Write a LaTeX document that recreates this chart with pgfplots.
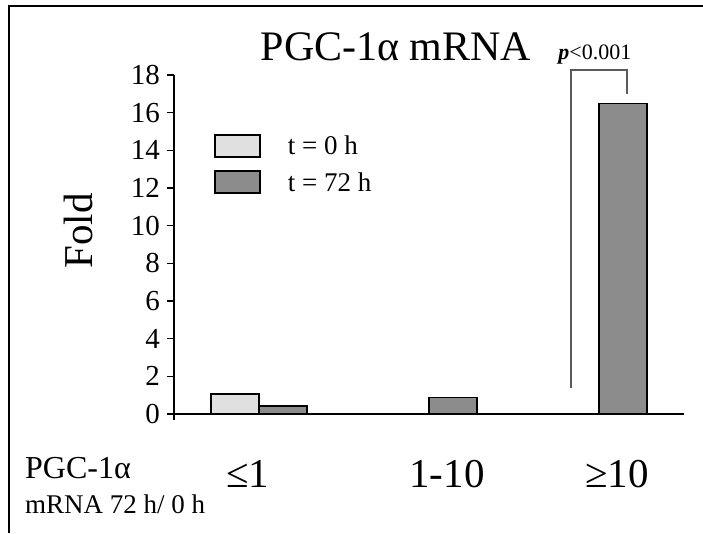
\documentclass[border=0pt]{standalone}
\usepackage{fontspec}
\setmainfont{Liberation Serif}
\usepackage{pgfplots}
\pgfplotsset{compat=1.18}
\definecolor{lightbar}{HTML}{E0E0E0}
\definecolor{darkbar}{HTML}{8C8C8C}
\definecolor{brack}{HTML}{5A5A5A}
\begin{document}
\begin{tikzpicture}
\path[use as bounding box] (0pt,0pt) rectangle (703pt,-533pt);
\draw[line width=2pt] (9pt,-533pt) -- (9pt,-6pt) -- (703pt,-6pt);
\begin{axis}[
  at={(174pt,-419.65pt)}, anchor=south west,
  scale only axis, width=510pt, height=344.6pt,
  xmin=-0.5, xmax=2.5, ymin=-0.3, ymax=18,
  axis x line=middle, axis y line=left,
  axis line style={line width=1.6pt, -},
  ybar=0pt, bar width=48pt,
  ytick={0,2,...,18},
  xtick={-0.065,1.106,2.106}, xticklabels={≤1,1-10,≥10},
  x tick style={draw=none},
  y tick style={line width=1.4pt, black},
  tick align=outside, major tick length=7pt,
  /pgf/number format/assume math mode=true,
  yticklabel style={font=\fontsize{29}{29}\selectfont, inner sep=0pt, xshift=-7pt},
  xticklabel style={font=\fontsize{41}{41}\selectfont, anchor=base, yshift=-66pt, inner sep=0pt},
  clip=false,
  legend cell align=left,
  legend image code/.code={\draw[#1, line width=2pt] (0pt,-11pt) rectangle (45pt,11pt);},
  legend style={draw=none, fill=none, at={(0.0784,0.829)}, anchor=north west,
    inner sep=0pt, outer sep=0pt, nodes={inner sep=0pt}, row sep=12.5pt,
    font=\fontsize{27}{27}\selectfont,
    /tikz/every odd column/.append style={column sep=27pt}},
]
\addplot[fill=lightbar, draw=black, line width=1.5pt] coordinates {(0,1.05)};
\addlegendentry{t = 0 h}
\addplot[fill=darkbar, draw=black, line width=1.5pt] coordinates {(0,0.43) (1,0.87) (2,16.5)};
\addlegendentry{t = 72 h}
\draw[brack, line width=1.6pt] (axis cs:1.835,1.38) -- (axis cs:1.835,18.27) -- (axis cs:2.165,18.27) -- (axis cs:2.165,17.0);
\node[font=\fontsize{22}{22}\selectfont, anchor=base] at (axis cs:1.976,18.8) {\textit{\textbf{p}}<0.001};
\end{axis}
\node[anchor=base, font=\fontsize{42}{42}\selectfont] at (396pt,-60pt) {PGC-1α mRNA};
\node[anchor=base, rotate=90, font=\fontsize{41}{41}\selectfont] at (92pt,-231pt) {Fold};
\node[anchor=base west, inner sep=0pt, font=\fontsize{32}{32}\selectfont] at (25pt,-478pt) {PGC-1α};
\node[anchor=base west, inner sep=0pt, font=\fontsize{27}{27}\selectfont] at (25pt,-513pt) {mRNA 72 h/ 0 h};
\end{tikzpicture}
\end{document}
